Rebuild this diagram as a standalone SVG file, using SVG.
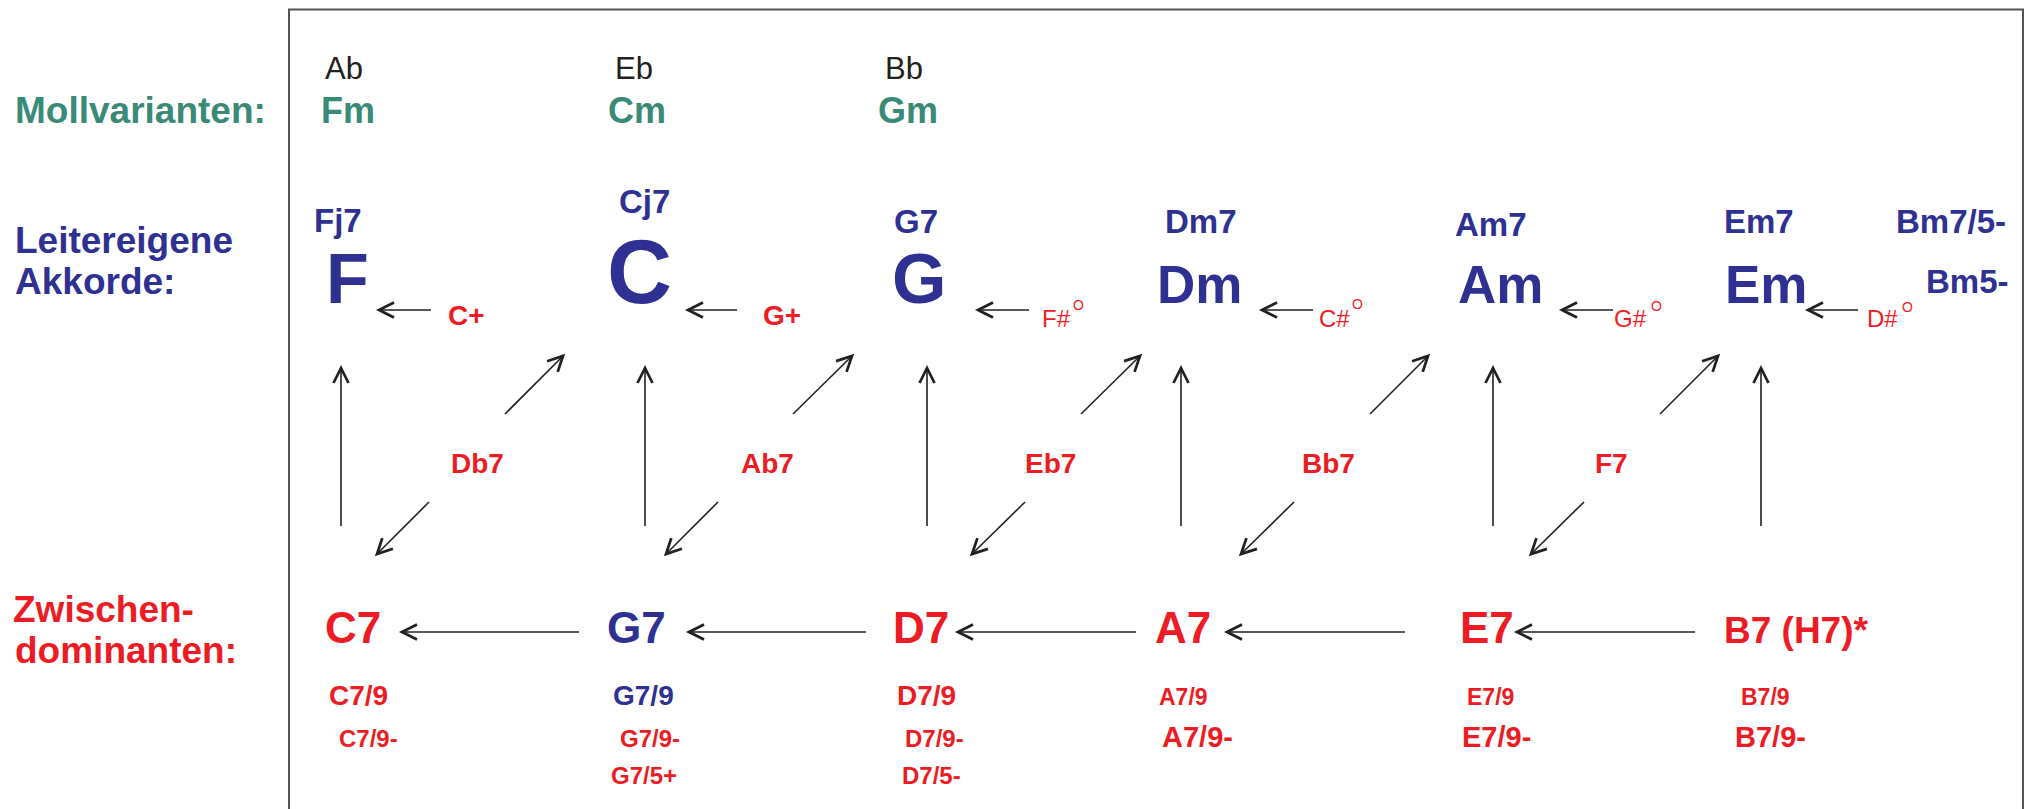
<svg xmlns="http://www.w3.org/2000/svg" width="2025" height="809" viewBox="0 0 2025 809">
<defs>
<marker id="ah" markerUnits="userSpaceOnUse" markerWidth="20" markerHeight="20" refX="0" refY="0" viewBox="-14 -8 16 16" orient="auto" overflow="visible">
<path d="M-12,-6 L0,0 L-12,6" fill="none" stroke="#231f20" stroke-width="2.2"/>
</marker>
</defs>
<style>
text{font-family:"Liberation Sans",Arial,sans-serif}
.b{font-weight:bold}
.blue{fill:#2e3192}
.red{fill:#ed1c24}
.teal{fill:#3a8a78}
.blk{fill:#231f20}
.lab{font-size:37px;font-weight:bold}
.big{font-size:44px;font-weight:bold}
.s33{font-size:33px;font-weight:bold}
.s28{font-size:28px;font-weight:bold}
.s24{font-size:24px;font-weight:bold}
.s23{font-size:23px;font-weight:bold}
.s29{font-size:29px;font-weight:bold}
.dim{font-size:24px}
.deg{font-size:14px}
.conn line{stroke:#231f20;stroke-width:1.6;marker-end:url(#ah)}
</style>
<rect width="2025" height="809" fill="#fff"/>
<path d="M289,812 L289,9.5 L2023,9.5 L2023,812" fill="none" stroke="#555" stroke-width="2"/>

<g id="labels">
<text x="15" y="123" class="lab teal">Mollvarianten:</text>
<text x="15" y="253" class="lab blue">Leitereigene</text>
<text x="15" y="294" class="lab blue">Akkorde:</text>
<text x="13" y="622" class="lab red">Zwischen-</text>
<text x="15" y="663" class="lab red">dominanten:</text>
</g>

<g id="moll">
<text x="325" y="79" font-size="31" class="blk">Ab</text>
<text x="321" y="123" font-size="36" class="b teal">Fm</text>
<text x="615" y="79" font-size="31" class="blk">Eb</text>
<text x="608" y="123" font-size="36" class="b teal">Cm</text>
<text x="885" y="79" font-size="31" class="blk">Bb</text>
<text x="878" y="123" font-size="36" class="b teal">Gm</text>
</g>

<g id="node-F">
<text x="314" y="232" class="s33 blue">Fj7</text>
<text x="326" y="303" font-size="70" class="b blue">F</text>
</g>
<g id="node-C">
<text x="619" y="213" class="s33 blue">Cj7</text>
<text x="607" y="303" font-size="90" class="b blue">C</text>
</g>
<g id="node-G">
<text x="894" y="233" class="s33 blue">G7</text>
<text x="892" y="303" font-size="70" class="b blue">G</text>
</g>
<g id="node-Dm">
<text x="1165" y="233" class="s33 blue">Dm7</text>
<text x="1157" y="303" font-size="53" class="b blue">Dm</text>
</g>
<g id="node-Am">
<text x="1455" y="236" class="s33 blue">Am7</text>
<text x="1458" y="303" font-size="53" class="b blue">Am</text>
</g>
<g id="node-Em">
<text x="1724" y="233" class="s33 blue">Em7</text>
<text x="1725" y="303" font-size="53" class="b blue">Em</text>
</g>
<g id="node-Bm">
<text x="1896" y="233" class="s33 blue">Bm7/5-</text>
<text x="1926" y="293" class="s33 blue">Bm5-</text>
</g>

<g id="passing">
<text x="448" y="325" class="s28 red">C+</text>
<text x="763" y="325" class="s28 red">G+</text>
<text x="1042" y="327" class="dim red">F#</text><text x="1073" y="310" class="deg red">O</text>
<text x="1319" y="327" class="dim red">C#</text><text x="1352" y="309" class="deg red">O</text>
<text x="1614" y="327" class="dim red">G#</text><text x="1651" y="311" class="deg red">O</text>
<text x="1867" y="327" class="dim red">D#</text><text x="1902" y="312" class="deg red">O</text>
</g>

<g id="tritone">
<text x="451" y="473" class="s28 red">Db7</text>
<text x="741" y="473" class="s28 red">Ab7</text>
<text x="1025" y="473" class="s28 red">Eb7</text>
<text x="1302" y="473" class="s28 red">Bb7</text>
<text x="1595" y="473" class="s28 red">F7</text>
</g>

<g id="node-C7">
<text x="325" y="643" class="big red">C7</text>
<text x="329" y="705" class="s28 red">C7/9</text>
<text x="339" y="747" class="s24 red">C7/9-</text>
</g>
<g id="node-G7">
<text x="607" y="643" class="big blue">G7</text>
<text x="613" y="705" class="s28 blue">G7/9</text>
<text x="620" y="747" class="s24 red">G7/9-</text>
<text x="611" y="784" class="s24 red">G7/5+</text>
</g>
<g id="node-D7">
<text x="893" y="643" class="big red">D7</text>
<text x="897" y="705" class="s28 red">D7/9</text>
<text x="905" y="747" class="s24 red">D7/9-</text>
<text x="902" y="784" class="s24 red">D7/5-</text>
</g>
<g id="node-A7">
<text x="1155" y="643" class="big red">A7</text>
<text x="1159" y="705" class="s23 red">A7/9</text>
<text x="1162" y="747" class="s29 red">A7/9-</text>
</g>
<g id="node-E7">
<text x="1460" y="643" class="big red">E7</text>
<text x="1467" y="705" class="s23 red">E7/9</text>
<text x="1462" y="747" class="s29 red">E7/9-</text>
</g>
<g id="node-B7">
<text x="1724" y="643" font-size="37" class="b red">B7 (H7)*</text>
<text x="1741" y="705" class="s23 red">B7/9</text>
<text x="1735" y="747" class="s29 red">B7/9-</text>
</g>

<g id="connectors" class="conn">
<line x1="431" y1="310" x2="379" y2="310"/>
<line x1="737" y1="310" x2="688" y2="310"/>
<line x1="1029" y1="310" x2="978" y2="310"/>
<line x1="1313" y1="310" x2="1262" y2="310"/>
<line x1="1613" y1="310" x2="1562" y2="310"/>
<line x1="1858" y1="310" x2="1808" y2="310"/>

<line x1="341" y1="526" x2="341" y2="368"/>
<line x1="645" y1="526" x2="645" y2="368"/>
<line x1="927" y1="526" x2="927" y2="368"/>
<line x1="1181" y1="526" x2="1181" y2="368"/>
<line x1="1493" y1="526" x2="1493" y2="368"/>
<line x1="1761" y1="526" x2="1761" y2="368"/>

<line x1="505" y1="414" x2="563" y2="356"/>
<line x1="793" y1="414" x2="852" y2="356"/>
<line x1="1081" y1="414" x2="1140" y2="356"/>
<line x1="1370" y1="414" x2="1428" y2="356"/>
<line x1="1660" y1="414" x2="1718" y2="356"/>

<line x1="429" y1="502" x2="377" y2="554"/>
<line x1="718" y1="502" x2="666" y2="554"/>
<line x1="1025" y1="502" x2="972" y2="554"/>
<line x1="1294" y1="502" x2="1241" y2="554"/>
<line x1="1584" y1="502" x2="1531" y2="554"/>

<line x1="579" y1="632" x2="402" y2="632"/>
<line x1="866" y1="632" x2="689" y2="632"/>
<line x1="1136" y1="632" x2="958" y2="632"/>
<line x1="1405" y1="632" x2="1227" y2="632"/>
<line x1="1695" y1="632" x2="1517" y2="632"/>
</g>
</svg>
